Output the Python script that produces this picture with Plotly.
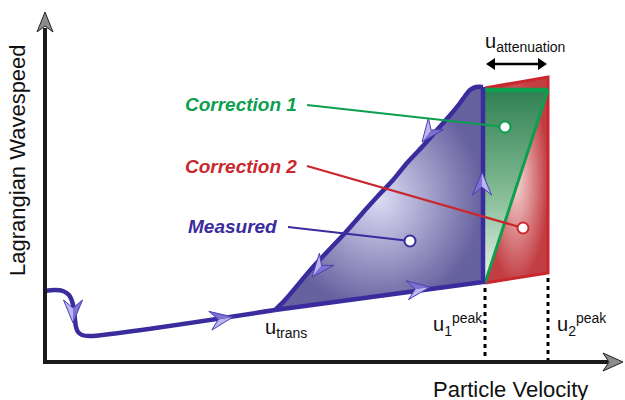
import numpy as np
import plotly.graph_objects as go

W, H = 625, 400
FONT = "Liberation Sans, Arial, sans-serif"

BLUE = "#3b2c9e"
GREEN = "#0c9f4e"
RED = "#c8282e"

# Measured Lagrangian wavespeed path (loading loop, ramp, release curve)
measured_x = [45, 55, 63, 69, 72, 74, 75, 76, 78, 82, 90, 275, 483, 483,
              476, 470, 465, 460, 452, 437, 422, 407, 393, 377, 367, 345, 313, 285, 275]
measured_y = [291, 290, 291, 295, 301, 310, 320, 327, 332, 335, 336, 310, 282, 87,
              87, 90, 96, 103, 113, 130, 147, 163, 180, 197, 208, 233, 267, 300, 310]
# path indices: u_trans, u1_peak (bottom), top of the release curve
i_trans, i_peak, i_top = 11, 12, 13

# Correction regions beyond u1_peak
corr1_x = [485, 548, 485]
corr1_y = [90, 90, 283]
corr2_x = [485, 548, 548, 485]
corr2_y = [88, 77, 273, 283]

# Direction markers along the path: tip position and heading
arrow_x = [73, 233, 422, 312, 482, 430]
arrow_y = [323, 317, 142, 277, 172, 287]
arrow_dx = [0.0, 24.5, -13.0, -14.5, 0.0, 21.5]
arrow_dy = [1.0, -4.0, 17.0, 17.5, -1.0, -3.0]

# Callout labels, their leader lines and target points
labels = ["Correction 1", "Correction 2", "Measured"]
label_colors = [GREEN, RED, BLUE]
label_x = [241, 241, 232]
label_y = [104, 166, 226]
leader_x0 = [307, 307, 288]
leader_y0 = [105, 166, 227]
target_x = [505, 523, 410]
target_y = [127, 228, 241]

# Reference velocities on the x axis
u1_peak, u2_peak = 485, 548
axis_x0, axis_y0 = 45, 362

fig = go.Figure()


def poly(xs, ys, **kw):
    fig.add_trace(go.Scatter(x=list(xs) + [xs[0]], y=list(ys) + [ys[0]], mode="lines",
                             fill="toself", hoverinfo="skip", showlegend=False, **kw))


def line(xs, ys, color, width, dash=None, shape="linear"):
    fig.add_trace(go.Scatter(x=xs, y=ys, mode="lines", hoverinfo="skip", showlegend=False,
                             line=dict(color=color, width=width, dash=dash, shape=shape,
                                       smoothing=0.8)))


# shaded areas
poly(corr2_x, corr2_y, line=dict(width=0),
     fillgradient=dict(type="radial", colorscale=[[0, "#f5d4d4"], [1, "#c23e43"]]))
poly(corr1_x, corr1_y, line=dict(width=0),
     fillgradient=dict(type="vertical", start=90, stop=283,
                       colorscale=[[0, "#2f8052"], [0.55, "#86bd97"], [1, "#eaf5ec"]]))
bx = measured_x[i_trans:]
by = measured_y[i_trans:]
poly(bx, by, line=dict(width=0),
     fillgradient=dict(type="radial", colorscale=[[0, "#dcdcf4"], [1, "#66619f"]]))

# outlines
line(corr2_x, corr2_y, RED, 3)
line([corr1_x[1], corr1_x[2]], [corr1_y[1], corr1_y[2]], GREEN, 3)
line([corr1_x[0], corr1_x[1]], [corr1_y[0], corr1_y[1]], GREEN, 4.5)
line(measured_x[:i_trans + 1], measured_y[:i_trans + 1], BLUE, 4.5, shape="spline")
line(measured_x[i_trans:i_top + 1], measured_y[i_trans:i_top + 1], BLUE, 4.5)
line(measured_x[i_top:], measured_y[i_top:], BLUE, 4.5, shape="spline")

# direction chevrons
L, HW, NOTCH = 23, 9.5, 8
for tx, ty, dx, dy in zip(arrow_x, arrow_y, arrow_dx, arrow_dy):
    n = np.hypot(dx, dy)
    ux, uy = dx / n, dy / n
    px, py = -uy, ux
    bxc, byc = tx - L * ux, ty - L * uy
    w1 = (bxc + HW * px, byc + HW * py)
    w2 = (bxc - HW * px, byc - HW * py)
    nt = (tx - (L - NOTCH) * ux, ty - (L - NOTCH) * uy)
    poly([tx, w1[0], nt[0]], [ty, w1[1], nt[1]], line=dict(width=0), fillcolor="#bdb5f2")
    poly([tx, nt[0], w2[0]], [ty, nt[1], w2[1]], line=dict(width=0), fillcolor="#7d72d4")
    line([tx, w1[0], nt[0], w2[0], tx], [ty, w1[1], nt[1], w2[1], ty], "#4b3fae", 1)

# leader lines, target dots and labels
for txt, c, lx, ly, x0, y0, x1, y1 in zip(labels, label_colors, label_x, label_y,
                                          leader_x0, leader_y0, target_x, target_y):
    line([x0, x1], [y0, y1], c, 2.2)
    fig.add_trace(go.Scatter(x=[x1], y=[y1], mode="markers", hoverinfo="skip", showlegend=False,
                             marker=dict(size=11, color="white", line=dict(color=c, width=2))))
    fig.add_annotation(x=lx, y=ly, text=txt, showarrow=False, xanchor="center", yanchor="middle",
                       font=dict(family=FONT, size=19, color=c, weight="bold", style="italic"))

# dotted peak markers
line([u1_peak, u1_peak], [288, axis_y0], "black", 3, dash="4px,4px")
line([u2_peak, u2_peak], [278, axis_y0], "black", 3, dash="4px,4px")

# axes with arrowheads
line([axis_x0, axis_x0], [axis_y0 + 2, 28], "#1a1a1a", 4)
line([axis_x0 - 2, 608], [axis_y0, axis_y0], "#1a1a1a", 4)
poly([45, 37, 45, 53], [12, 32, 26, 32], fillcolor="#8c8c8c", line=dict(color="#222", width=1))
poly([623, 603, 609, 603], [362, 353, 362, 371], fillcolor="#8c8c8c", line=dict(color="#222", width=1))

# attenuation double arrow
line([493, 540], [64, 64], "black", 2.5)
poly([486, 495, 495], [64, 58, 70], fillcolor="black", line=dict(width=0))
poly([547, 538, 538], [64, 58, 70], fillcolor="black", line=dict(width=0))

# text
ann = dict(showarrow=False, font=dict(family=FONT, size=20, color="#111"))
big = dict(showarrow=False, font=dict(family=FONT, size=22, color="#111"))
fig.add_annotation(x=17, y=160, text="Lagrangian Wavespeed", textangle=-90,
                   xanchor="center", yanchor="middle", **big)
fig.add_annotation(x=510, y=389, text="Particle Velocity", xanchor="center", yanchor="middle", **big)
fig.add_annotation(x=263, y=328, text="u<sub>trans</sub>", xanchor="left", yanchor="middle", **ann)
fig.add_annotation(x=431, y=324, text="u<sub>1</sub><sup>peak</sup>", xanchor="left",
                   yanchor="middle", **ann)
fig.add_annotation(x=555, y=324, text="u<sub>2</sub><sup>peak</sup>", xanchor="left",
                   yanchor="middle", **ann)
fig.add_annotation(x=483, y=42, text="u<sub>attenuation</sub>", xanchor="left",
                   yanchor="middle", **ann)

fig.update_layout(
    width=W, height=H, autosize=False,
    margin=dict(l=0, r=0, t=0, b=0),
    paper_bgcolor="white", plot_bgcolor="white",
    xaxis=dict(range=[0, W], visible=False, fixedrange=True),
    yaxis=dict(range=[H, 0], visible=False, fixedrange=True),
    showlegend=False,
)

fig.write_html("out.html")
